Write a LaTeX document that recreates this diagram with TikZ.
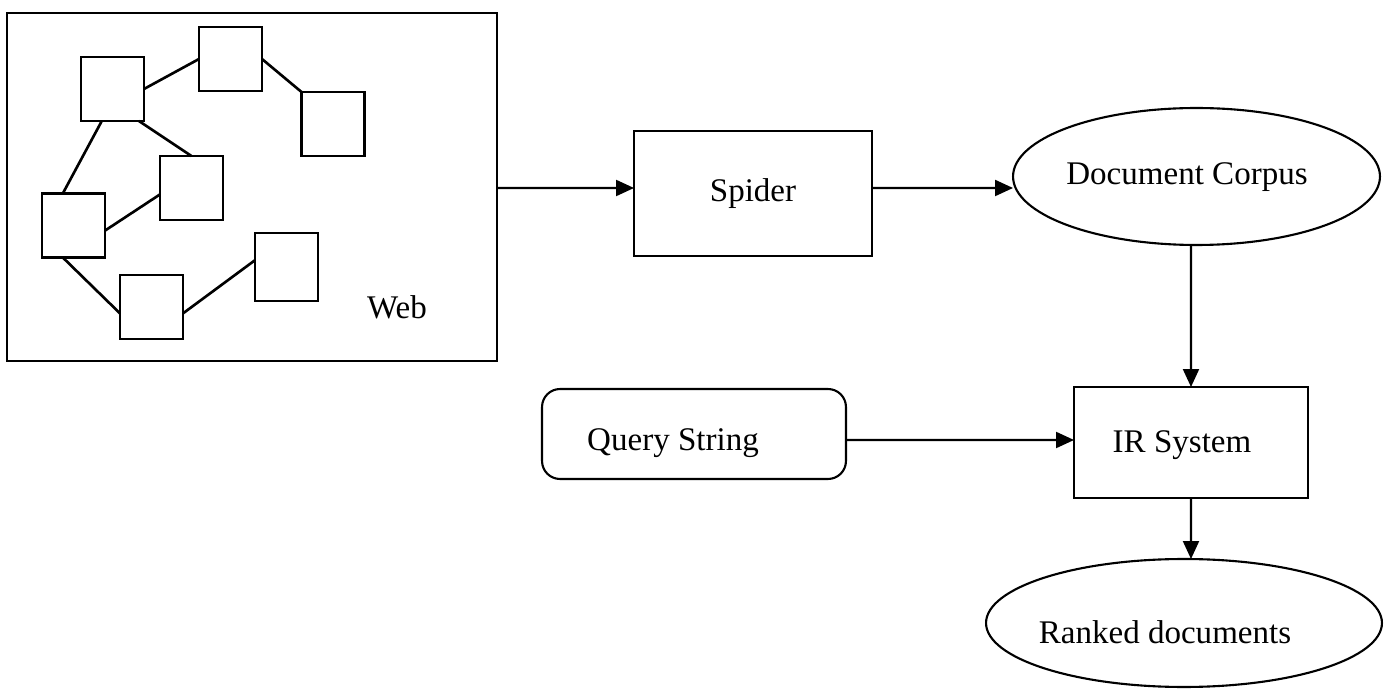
\documentclass[tikz,border=0pt]{standalone}
\usepackage{fontspec}
\setmainfont{Liberation Serif}
\usetikzlibrary{shapes.geometric,arrows.meta,calc}

\begin{document}
\begin{tikzpicture}[x=0.02cm,y=-0.02cm,
  every node/.style={inner sep=0pt,outer sep=0pt},
  txt/.style={font=\fontsize{18.8}{22}\selectfont},
  frame/.style={draw,line width=1.5pt,rectangle},
  page/.style={draw,line width=1.5pt,rectangle,minimum width=1.26cm,minimum height=1.28cm},
  link/.style={line width=1.5pt},
  oval/.style={draw,line width=1.2pt,ellipse},
  flow/.style={line width=1.2pt,-{Triangle[length=0.36cm,width=0.32cm]}}]
\useasboundingbox (0,0) rectangle (1390,692);

% the web of linked pages
\node[frame,minimum width=9.8cm,minimum height=6.96cm] (web) at (252,187) {};
\node[page] (A) at (112.5,89) {};
\node[page] (B) at (230.5,59) {};
\node[page] (C) at (333,124) {};
\node[page] (D) at (191.5,188) {};
\node[page] (E) at (73.5,225.5) {};
\node[page] (F) at (151.5,307) {};
\node[page,minimum height=1.36cm] (G) at (286.5,267) {};
\node[txt] (weblabel) at (397,307) {Web};

\draw[link] (A.east) -- (B.west);
\draw[link] (B.east) -- (C.north west);
\draw[link] ($(A.south west)!0.92!(A.south east)$) -- (D.north);
\draw[link] ($(A.south west)!0.33!(A.south east)$) -- ($(E.north west)!0.33!(E.north east)$);
\draw[link] ($(E.north east)!0.58!(E.south east)$) -- ($(D.north west)!0.6!(D.south west)$);
\draw[link] ($(E.south west)!0.33!(E.south east)$) -- ($(F.north west)!0.6!(F.south west)$);
\draw[link] ($(F.north east)!0.6!(F.south east)$) -- ($(G.north west)!0.4!(G.south west)$);

% processing chain
\node[frame,minimum width=4.76cm,minimum height=2.5cm,
  label={[txt,yshift=0.0cm]center:Spider}] (spider) at (753,193.5) {};
\node[oval,minimum width=7.34cm,minimum height=2.74cm,
  label={[txt,xshift=-0.19cm,yshift=-0.01cm]center:Document Corpus}] (corpus) at (1196.5,176.5) {};
\node[frame,line width=1.2pt,minimum width=4.68cm,minimum height=2.22cm,
  label={[txt,xshift=-0.18cm,yshift=-0.05cm]center:IR System}] (ir) at (1191,442.5) {};
\node[draw,line width=1.2pt,rectangle,rounded corners=0.36cm,minimum width=6.08cm,minimum height=1.8cm,
  label={[txt,xshift=-0.42cm,yshift=-0.18cm]center:Query String}] (query) at (694,434) {};
\node[oval,minimum width=7.92cm,minimum height=2.56cm,
  label={[txt,xshift=-0.38cm,yshift=-0.18cm]center:Ranked documents}] (ranked) at (1184,623) {};

\draw[flow] ([yshift=-0.02cm]web.east) -- ([yshift=0.11cm]spider.west);
\draw[flow] ([yshift=0.11cm]spider.east) -- ([yshift=-0.23cm]corpus.west);
\draw[flow] ([xshift=-0.11cm]corpus.south) -- (ir.north);
\draw[flow] ([yshift=-0.12cm]query.east) -- ([yshift=0.05cm]ir.west);
\draw[flow] (ir.south) -- ([xshift=0.14cm]ranked.north);
\end{tikzpicture}
\end{document}
